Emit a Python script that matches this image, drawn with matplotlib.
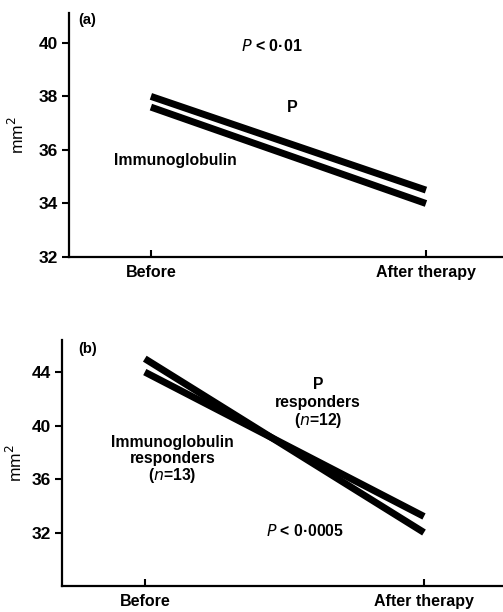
import numpy as np
import matplotlib.pyplot as plt

plt.rcParams['font.family'] = ['Liberation Sans', 'DejaVu Sans']

# stages on the x axis
stages = ['Before', 'After therapy']

# panel (a): mean area, mm^2
a_p = [38.0, 34.5]
a_ig = [37.6, 34.0]

# panel (b): responders only
b_ig = [45.0, 32.0]
b_p = [44.0, 33.2]

a_yticks = [32, 34, 36, 38, 40]
b_yticks = [32, 36, 40, 44]


def style_axis(ax, yticks, ylim):
    x = np.arange(len(stages))
    ax.set_xticks(x)
    ax.set_xticklabels(stages, fontsize=11.5, fontweight='bold')
    ax.set_yticks(yticks)
    ax.set_yticklabels([str(t) for t in yticks], fontsize=12.5, fontweight='bold')
    ax.set_ylim(*ylim)
    ax.set_xlim(-0.298, 1.28)
    for s in ['top', 'right']:
        ax.spines[s].set_visible(False)
    for s in ['left', 'bottom']:
        ax.spines[s].set_linewidth(1.6)
    ax.tick_params(axis='x', direction='in', length=5, width=1.5, pad=6)
    ax.tick_params(axis='y', direction='out', length=5, width=1.5, pad=3)
    ax.set_ylabel('mm$^2$', fontsize=12.5)


fig = plt.figure(figsize=(5.03, 6.12), dpi=100)

# ---- (a)
ax1 = fig.add_axes([0.137, 0.580, 0.863, 0.399])
x = np.arange(len(stages))
ax1.plot(x, a_p, color='black', lw=5, solid_capstyle='butt')
ax1.plot(x, a_ig, color='black', lw=5, solid_capstyle='butt')
style_axis(ax1, a_yticks, (32, 41.12))
ax1.yaxis.set_label_coords(-0.097, 0.5)
ax1.text(-0.23, 40.85, '(a)', fontsize=10.5, fontweight='bold', ha='center', va='center')
ax1.text(0.44, 39.9, '$P$ < 0·01', fontsize=11.5, fontweight='bold', ha='center', va='center')
ax1.text(0.515, 37.6, 'P', fontsize=11.5, fontweight='bold', ha='center', va='center')
ax1.text(0.09, 35.6, 'Immunoglobulin', fontsize=11.3, fontweight='bold', ha='center', va='center')

# ---- (b)
ax2 = fig.add_axes([0.123, 0.0425, 0.877, 0.402])
ax2.plot(x, b_ig, color='black', lw=5, solid_capstyle='butt')
ax2.plot(x, b_p, color='black', lw=5, solid_capstyle='butt')
style_axis(ax2, b_yticks, (28, 46.4))
ax2.set_xlim(-0.297, 1.283)
ax2.yaxis.set_label_coords(-0.084, 0.5)
ax2.text(-0.205, 45.7, '(b)', fontsize=10.5, fontweight='bold', ha='center', va='center')
ax2.text(0.62, 43.1, 'P', fontsize=11.3, fontweight='bold', ha='center', va='center')
ax2.text(0.62, 41.75, 'responders', fontsize=11.3, fontweight='bold', ha='center', va='center')
ax2.text(0.62, 40.4, '($n$=12)', fontsize=11.3, fontweight='bold', ha='center', va='center')
ax2.text(0.10, 38.75, 'Immunoglobulin', fontsize=11.3, fontweight='bold', ha='center', va='center')
ax2.text(0.10, 37.55, 'responders', fontsize=11.3, fontweight='bold', ha='center', va='center')
ax2.text(0.10, 36.3, '($n$=13)', fontsize=11.3, fontweight='bold', ha='center', va='center')
ax2.text(0.575, 32.1, '$P$ < 0·0005', fontsize=11.3, fontweight='bold', ha='center', va='center')

fig.savefig('out.png', dpi=100)
